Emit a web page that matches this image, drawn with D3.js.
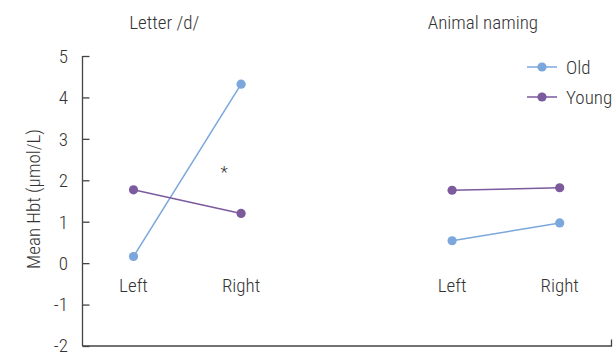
<!DOCTYPE html>
<html>
<head>
<meta charset="utf-8">
<script src="https://cdn.jsdelivr.net/npm/d3@7"></script>
<style>
  html, body { margin: 0; padding: 0; background: #fff; }
  svg { display: block; }
  text { font-family: "Roboto Condensed", "Liberation Sans Narrow", Roboto, sans-serif; font-weight: 300; fill: #333; }
</style>
</head>
<body>
<svg id="chart" width="613" height="354"></svg>
<script>
// Tasks (panels), hemispheres and group means (µmol/L)
const tasks = ["Letter /d/", "Animal naming"];
const sides = ["Left", "Right"];
const groups = ["Old", "Young"];
const oldValues = [[0.16, 4.32], [0.54, 0.97]];
const youngValues = [[1.77, 1.20], [1.76, 1.82]];
const yTicks = [-2, -1, 0, 1, 2, 3, 4, 5];
const colors = { Old: "#7ba7dc", Young: "#7b5a9e" };

const svg = d3.select("#chart");
const fontSize = 19;

const y = d3.scaleLinear().domain([-2, 5]).range([346, 56]);
const outer = d3.scalePoint().domain(tasks).range([187.3, 505.9]);
const inner = d3.scalePoint().domain(sides).range([-53.8, 53.8]);
const xPos = (task, side) => outer(task) + inner(side);

const axisX = 82.5;
const rightEnd = 611.5;

// Left axis with inward ticks
const yAxis = d3.axisRight(y).tickValues(yTicks).tickSize(7).tickFormat("");
const gy = svg.append("g").attr("transform", `translate(${axisX},0)`).call(yAxis);
gy.select(".domain").remove();
gy.selectAll(".tick line").attr("stroke", "#444").attr("stroke-width", 1.3);
svg.append("line")
  .attr("x1", axisX).attr("x2", axisX)
  .attr("y1", y(5)).attr("y2", y(-2))
  .attr("stroke", "#444").attr("stroke-width", 1.3);

svg.append("g").selectAll("text").data(yTicks).join("text")
  .attr("x", 68).attr("y", d => y(d) - (d === -2 ? 1 : 0))
  .attr("dy", "0.36em")
  .attr("text-anchor", "end")
  .attr("font-size", fontSize)
  .text(d => d);

// Bottom baseline with a closing tick at the right end
svg.append("path")
  .attr("d", `M${axisX},${y(-2)}H${rightEnd}V${y(-2) - 6.5}`)
  .attr("fill", "none").attr("stroke", "#444").attr("stroke-width", 1.3);

// Y axis title
svg.append("text")
  .attr("transform", `translate(33,${199}) rotate(-90)`)
  .attr("text-anchor", "middle")
  .attr("dy", "0.35em")
  .attr("font-size", fontSize)
  .text("Mean Hbt (µmol/L)");

// Panel titles
svg.append("g").selectAll("text").data(tasks).join("text")
  .attr("x", d => outer(d) - 23)
  .attr("y", 22)
  .attr("dy", "0.35em")
  .attr("text-anchor", "middle")
  .attr("font-size", fontSize)
  .text(d => d);

// Category labels under each panel
const catData = tasks.flatMap(t => sides.map(s => ({ t, s })));
svg.append("g").selectAll("text").data(catData).join("text")
  .attr("x", d => xPos(d.t, d.s))
  .attr("y", y(0) + 22)
  .attr("dy", "0.35em")
  .attr("text-anchor", "middle")
  .attr("font-size", fontSize)
  .text(d => d.s);

// Series lines and points
const seriesData = [
  { name: "Old", values: oldValues },
  { name: "Young", values: youngValues }
];
const line = d3.line().x(d => d.x).y(d => y(d.v));

seriesData.forEach(series => {
  tasks.forEach((task, ti) => {
    const pts = sides.map((side, si) => ({ x: xPos(task, side), v: series.values[ti][si] }));
    svg.append("path")
      .datum(pts)
      .attr("d", line)
      .attr("fill", "none")
      .attr("stroke", colors[series.name])
      .attr("stroke-width", 1.5);
    svg.append("g").selectAll("circle").data(pts).join("circle")
      .attr("cx", d => d.x).attr("cy", d => y(d.v))
      .attr("r", 4.6)
      .attr("fill", colors[series.name]);
  });
});

// Significance marker
svg.append("text")
  .attr("x", 224).attr("y", 172)
  .attr("dy", "0.35em")
  .attr("text-anchor", "middle")
  .attr("font-size", fontSize - 2)
  .text("*");

// Legend
const legend = svg.append("g").attr("transform", "translate(527,67)");
groups.forEach((g, i) => {
  const row = legend.append("g").attr("transform", `translate(0,${i * 30})`);
  row.append("line").attr("x1", 0).attr("x2", 30).attr("y1", 0).attr("y2", 0)
    .attr("stroke", colors[g]).attr("stroke-width", 1.5);
  row.append("circle").attr("cx", 15).attr("cy", 0).attr("r", 4.6).attr("fill", colors[g]);
  row.append("text").attr("x", 39).attr("y", 0).attr("dy", "0.35em")
    .attr("font-size", fontSize).text(g);
});
</script>
</body>
</html>
